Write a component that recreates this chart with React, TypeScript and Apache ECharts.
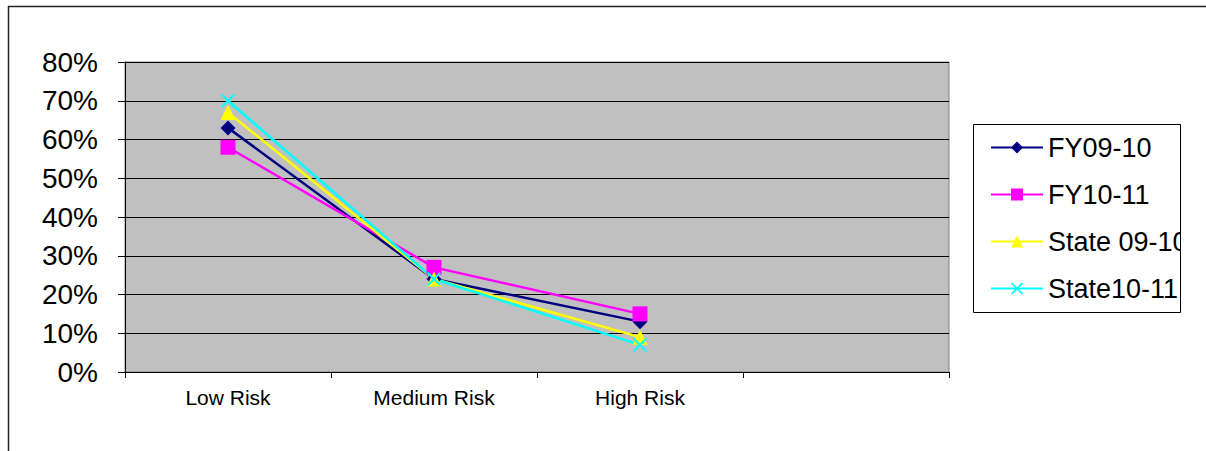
import React, { useEffect, useRef } from "react";
import * as echarts from "echarts";

const categories = ["Low Risk", "Medium Risk", "High Risk", ""];
const fy0910 = [63, 24, 13, null];
const fy1011 = [58, 27, 15, null];
const state0910 = [67, 24, 9, null];
const state1011 = [70, 24, 7, null];
const seriesNames = ["FY09-10", "FY10-11", "State 09-10", "State10-11"];
const yTicks = [0, 10, 20, 30, 40, 50, 60, 70, 80];

const X_SYMBOL =
  "path://M0,1L1,0L5,4L9,0L10,1L6,5L10,9L9,10L5,6L1,10L0,9L4,5Z";

export default function App() {
  const ref = useRef<HTMLDivElement>(null);
  useEffect(() => {
    if (!ref.current) return;
    const chart = echarts.init(ref.current, null, { renderer: "svg" });
    const font = "Arial, 'Liberation Sans', sans-serif";
    const mk = (name: string, data: any[], color: string, symbol: string, size: number) => ({
      name,
      type: "line",
      data: data.map((v) => (v === null ? null : v / 100)),
      symbol,
      symbolSize: size,
      showSymbol: true,
      lineStyle: { color, width: 2.5 },
      itemStyle: { color, borderWidth: 0 },
      emphasis: { disabled: true },
      connectNulls: false,
    });
    chart.setOption({
      animation: false,
      backgroundColor: "#ffffff",
      textStyle: { fontFamily: font },
      grid: {
        left: 125,
        top: 62,
        width: 824,
        height: 310,
        show: true,
        backgroundColor: "#C0C0C0",
        borderColor: "#808080",
        borderWidth: 1,
        containLabel: false,
      },
      legend: {
        orient: "vertical",
        left: 973,
        top: 124,
        padding: [10, 4, 10, 17],
        itemGap: 20,
        itemWidth: 52,
        itemHeight: 15,
        borderWidth: 0,
        backgroundColor: "transparent",
        textStyle: { fontSize: 27, color: "#000", fontFamily: font },
        data: seriesNames,
      },
      xAxis: {
        type: "category",
        data: categories,
        boundaryGap: true,
        axisLine: { show: true, lineStyle: { color: "#000", width: 1 } },
        axisTick: { show: true, interval: 0, length: 6, lineStyle: { color: "#000" } },
        axisLabel: { interval: 0, fontSize: 21, color: "#000", margin: 15, fontFamily: font },
        splitLine: { show: false },
      },
      yAxis: {
        type: "value",
        min: 0,
        max: 0.8,
        interval: 0.1,
        axisLine: { show: true, lineStyle: { color: "#000", width: 1 } },
        axisTick: { show: true, length: 7, lineStyle: { color: "#000" } },
        axisLabel: {
          fontSize: 28,
          color: "#000",
          margin: 27,
          fontFamily: font,
          formatter: (v: number) => {
            const p = Math.round(v * 100);
            return yTicks.includes(p) ? p + "%" : "";
          },
        },
        splitLine: { show: true, lineStyle: { color: "#000", width: 1 } },
      },
      series: [
        mk(seriesNames[0], fy0910, "#000080", "diamond", 15),
        mk(seriesNames[1], fy1011, "#FF00FF", "rect", 15),
        mk(seriesNames[2], state0910, "#FFFF00", "triangle", 15),
        mk(seriesNames[3], state1011, "#00FFFF", X_SYMBOL, 14),
      ],
      graphic: [
        {
          type: "line",
          shape: { x1: 8, y1: 6.5, x2: 1206, y2: 6.5 },
          style: { stroke: "#222", lineWidth: 1.5 },
          silent: true,
        },
        {
          type: "line",
          shape: { x1: 8.5, y1: 6, x2: 8.5, y2: 451 },
          style: { stroke: "#222", lineWidth: 1.5 },
          silent: true,
        },
        {
          type: "rect",
          z: 100,
          shape: { x: 1180.5, y: 110, width: 26, height: 220 },
          style: { fill: "#fff", stroke: null },
          silent: true,
        },
        {
          type: "rect",
          z: 101,
          shape: { x: 973.5, y: 124.5, width: 207, height: 188 },
          style: { fill: "none", stroke: "#000", lineWidth: 1 },
          silent: true,
        },
      ],
    });
    return () => chart.dispose();
  }, []);
  return (
    <div
      ref={ref}
      style={{ position: "absolute", left: 0, top: 0, width: 1206, height: 451 }}
    />
  );
}
